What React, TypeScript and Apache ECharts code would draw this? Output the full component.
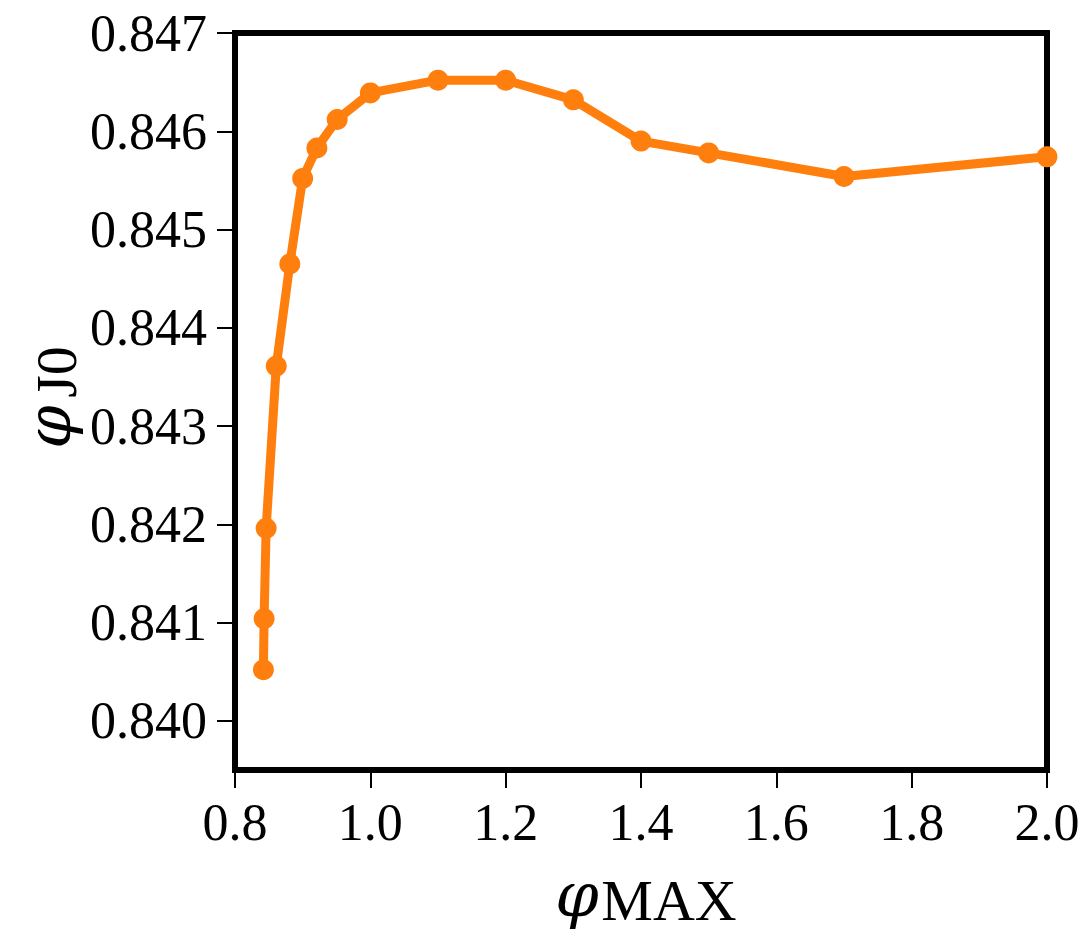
import React, { useEffect, useRef } from "react";
import * as echarts from "echarts";

const phiMax = [0.842, 0.843, 0.846, 0.861, 0.881, 0.9, 0.921, 0.951, 1.0, 1.1, 1.2, 1.3, 1.4, 1.5, 1.7, 2.0];
const phiJ0 = [0.84052, 0.84104, 0.84196, 0.84361, 0.84465, 0.84552, 0.84583, 0.84612, 0.84639, 0.84652, 0.84652, 0.84632, 0.8459, 0.84578, 0.84554, 0.84574];
const xTicks = [0.8, 1.0, 1.2, 1.4, 1.6, 1.8, 2.0];
const yTicks = [0.84, 0.841, 0.842, 0.843, 0.844, 0.845, 0.846, 0.847];

const FONT = "Liberation Serif";
const PHIFONT = "DejaVu Serif";

export default function App() {
  const ref = useRef<HTMLDivElement>(null);
  useEffect(() => {
    if (!ref.current) return;
    const chart = echarts.init(ref.current, undefined, { renderer: "svg" });
    chart.setOption({
      animation: false,
      backgroundColor: "#ffffff",
      grid: {
        left: 235,
        top: 33,
        width: 812,
        height: 737,
        show: true,
        borderColor: "#000",
        borderWidth: 6,
        backgroundColor: "transparent",
      },
      xAxis: {
        type: "value",
        min: 0.8,
        max: 2.0,
        axisLine: { show: false },
        splitLine: { show: false },
        axisTick: { show: true, length: 18, lineStyle: { color: "#000", width: 2 }, customValues: xTicks },
        axisLabel: {
          customValues: xTicks,
          formatter: (v: number) => v.toFixed(1),
          fontFamily: FONT,
          fontSize: 52,
          color: "#000",
          margin: 26,
        },
      },
      yAxis: {
        type: "value",
        min: 0.8395,
        max: 0.847,
        axisLine: { show: false },
        splitLine: { show: false },
        axisTick: { show: true, length: 18, lineStyle: { color: "#000", width: 2 }, customValues: yTicks },
        axisLabel: {
          customValues: yTicks,
          formatter: (v: number) => v.toFixed(3),
          fontFamily: FONT,
          fontSize: 52,
          color: "#000",
          margin: 28,
        },
      },
      graphic: [
        {
          type: "text",
          x: 577,
          y: 894,
          style: { text: "φ", fontFamily: PHIFONT, fontStyle: "italic", fontSize: 62, fill: "#000", align: "center", verticalAlign: "middle" },
        },
        {
          type: "text",
          x: 669,
          y: 900,
          style: { text: "MAX", fontFamily: FONT, fontSize: 58, fill: "#000", align: "center", verticalAlign: "middle" },
        },
        {
          type: "text",
          x: 48,
          y: 427,
          rotation: Math.PI / 2,
          style: { text: "φ", fontFamily: PHIFONT, fontStyle: "italic", fontSize: 62, fill: "#000", align: "center", verticalAlign: "middle" },
        },
        {
          type: "text",
          x: 56,
          y: 372,
          rotation: Math.PI / 2,
          style: { text: "J0", fontFamily: FONT, fontSize: 58, fill: "#000", align: "center", verticalAlign: "middle" },
        },
      ],
      series: [
        {
          type: "line",
          data: phiMax.map((x, i) => [x, phiJ0[i]]),
          color: "#ff7f0e",
          lineStyle: { width: 9, color: "#ff7f0e" },
          itemStyle: { color: "#ff7f0e" },
          symbol: "circle",
          symbolSize: 21,
          clip: false,
        },
      ],
    });
    return () => chart.dispose();
  }, []);
  return <div ref={ref} style={{ position: "absolute", left: 0, top: 0, width: 1087, height: 933 }} />;
}
